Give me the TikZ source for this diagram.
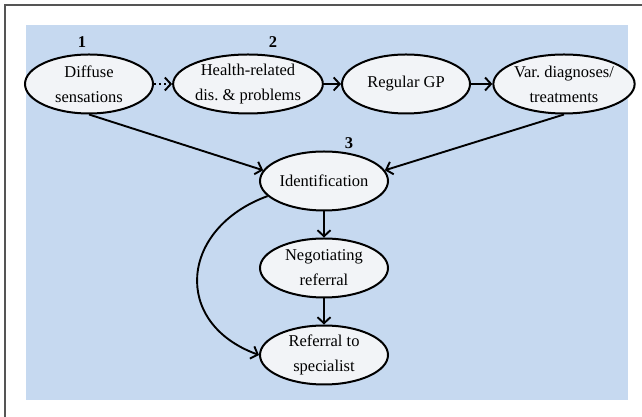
\documentclass[tikz,border=0pt]{standalone}
\usepackage{fontspec}
\setmainfont{Liberation Serif}
\usetikzlibrary{arrows.meta,positioning,calc,shapes.geometric}

\definecolor{bgblue}{HTML}{C6D9F0}
\definecolor{stagefill}{HTML}{F2F4F7}
\definecolor{framegray}{HTML}{555555}

\begin{document}
\begin{tikzpicture}[x=1pt, y=1pt,
  stage/.style={draw, ellipse, line width=2pt, fill=stagefill, minimum width=128pt,
                minimum height=59pt, inner sep=0pt, align=center,
                font=\fontsize{16.5}{25}\selectfont},
lnk/.style={-{Straight Barb[length=6pt,width=13pt]}, line width=1.9pt},
num/.style={font=\fontsize{16.5}{18}\selectfont\bfseries, inner sep=0pt},
]
\useasboundingbox (0,0) rectangle (642,417);
\draw[framegray, line width=1.5pt] (5,0) -- (5,412) -- (642,412);
\fill[bgblue] (26,17) rectangle (628,392);

\node[stage] (diff) at (89,333) {Diffuse\\sensations};
\node[stage] (health) at (248,333) {Health-related\\dis.\ \&\ problems};
\node[stage] (gp) at (406,333) {Regular GP};
\node[stage] (var) at (564,333) {Var.\ diagnoses/\\treatments};
\node[stage] (ident) at (324,236) {Identification};
\node[stage] (neg) at (324,149) {Negotiating\\referral};
\node[stage] (ref) at (324,62) {Referral to\\specialist};

\node[num] (n1) at (82,375) {1};
\node[num] (n2) at (273,375) {2};
\node[num] (n3) at (349,274) {3};

\draw[lnk, dash pattern=on 2pt off 3pt] (diff) -- (health);
\draw[lnk] (health) -- (gp);
\draw[lnk] (gp) -- (var);
\draw[lnk] (diff.south) -- (ident.170);
\draw[lnk] (var.south) -- (ident.10);
\draw[lnk] (ident) -- (neg);
\draw[lnk] (neg) -- (ref);
\draw[lnk] (ident.195) to[out=200, in=160, looseness=1.5] (ref.west);
\end{tikzpicture}
\end{document}
